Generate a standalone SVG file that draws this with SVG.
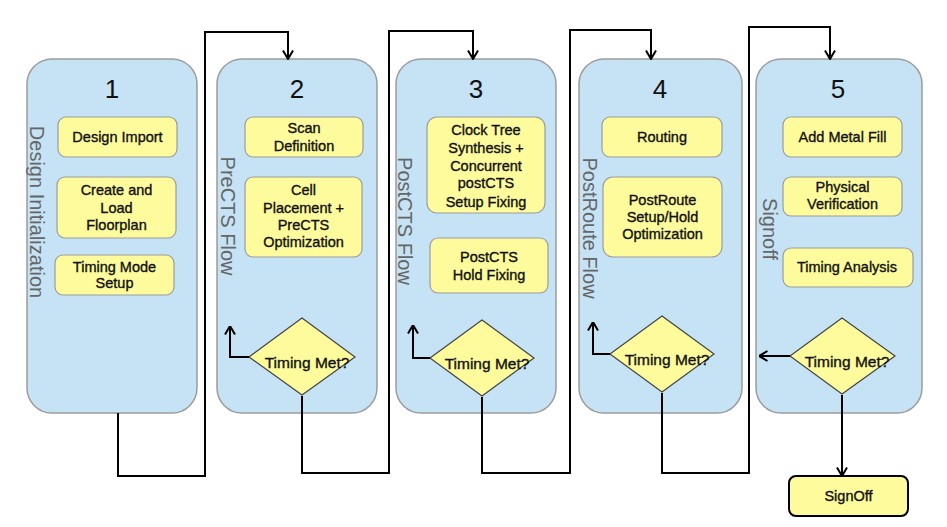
<svg xmlns="http://www.w3.org/2000/svg" width="947" height="527" viewBox="0 0 947 527">
<style>
.panel{fill:#C5E3F4;stroke:#9C9C9C;stroke-width:1.5}
.box{fill:#FEFB9D;stroke:#9C9C9C;stroke-width:1.2}
.dia{fill:#FEFB9D;stroke:#444;stroke-width:1.2}
.t{font-family:"Liberation Sans",Arial,sans-serif;font-size:14.5px;fill:#111;stroke:#111;stroke-width:0.35;text-anchor:middle}
.tm{font-size:15.5px}
.num{font-family:"Liberation Sans",Arial,sans-serif;font-size:26px;fill:#111;text-anchor:middle}
.vl{font-family:"Liberation Sans",Arial,sans-serif;font-size:20px;fill:#666;text-anchor:middle}
.c{fill:none;stroke:#000;stroke-width:2}
</style>
<defs>
<marker id="arr" viewBox="0 0 10 12" refX="9.5" refY="6" markerWidth="10" markerHeight="12" markerUnits="userSpaceOnUse" orient="auto">
<path d="M1,1 L9.5,6 L1,11" fill="none" stroke="#000" stroke-width="2"/>
</marker>
</defs>
<rect width="947" height="527" fill="#fff"/>

<g id="panel1">
<rect class="panel" x="27" y="59" width="170" height="354" rx="25"/>
<text class="num" x="112" y="98">1</text>
<text class="vl" transform="translate(30,212) rotate(90)">Design Initialization</text>
</g>
<g id="design-import"><rect class="box" x="58" y="117" width="119" height="40" rx="8"/><text class="t" x="117.5" y="142">Design Import</text></g>
<g id="floorplan"><rect class="box" x="57" y="177" width="119" height="61" rx="8"/><text class="t" x="116.5" y="195">Create and</text><text class="t" x="116.5" y="213">Load</text><text class="t" x="116.5" y="230">Floorplan</text></g>
<g id="timing-mode"><rect class="box" x="55" y="255" width="119" height="40" rx="8"/><text class="t" x="114.5" y="272">Timing Mode</text><text class="t" x="114.5" y="288">Setup</text></g>

<g id="panel2">
<rect class="panel" x="217" y="59" width="160" height="354" rx="25"/>
<text class="num" x="297" y="98">2</text>
<text class="vl" transform="translate(221,216) rotate(90)">PreCTS Flow</text>
</g>
<g id="scan"><rect class="box" x="245" y="117" width="118" height="40" rx="8"/><text class="t" x="304" y="133">Scan</text><text class="t" x="304" y="151">Definition</text></g>
<g id="placement"><rect class="box" x="245" y="177" width="117" height="80" rx="8"/><text class="t" x="303.5" y="195">Cell</text><text class="t" x="303.5" y="213">Placement +</text><text class="t" x="303.5" y="230">PreCTS</text><text class="t" x="303.5" y="247">Optimization</text></g>
<g id="dec2"><polygon class="dia" points="302,318 355,357 302,395 249,357"/><text class="t tm" x="307" y="368">Timing Met?</text></g>

<g id="panel3">
<rect class="panel" x="396" y="59" width="160" height="354" rx="25"/>
<text class="num" x="476" y="98">3</text>
<text class="vl" transform="translate(398,221) rotate(90)">PostCTS Flow</text>
</g>
<g id="cts"><rect class="box" x="427" y="117" width="118" height="96" rx="10"/><text class="t" x="486" y="135">Clock Tree</text><text class="t" x="486" y="153">Synthesis +</text><text class="t" x="486" y="171">Concurrent</text><text class="t" x="486" y="188">postCTS</text><text class="t" x="486" y="207">Setup Fixing</text></g>
<g id="hold"><rect class="box" x="430" y="238" width="118" height="55" rx="8"/><text class="t" x="489" y="262">PostCTS</text><text class="t" x="489" y="280">Hold Fixing</text></g>
<g id="dec3"><polygon class="dia" points="482,320 534,358 482,396 430,358"/><text class="t tm" x="487" y="369">Timing Met?</text></g>

<g id="panel4">
<rect class="panel" x="579" y="59" width="163" height="354" rx="25"/>
<text class="num" x="660" y="98">4</text>
<text class="vl" transform="translate(583,228) rotate(90)">PostRoute Flow</text>
</g>
<g id="routing"><rect class="box" x="602" y="117" width="120" height="40" rx="8"/><text class="t" x="662" y="142">Routing</text></g>
<g id="postroute"><rect class="box" x="603" y="177" width="119" height="80" rx="10"/><text class="t" x="662.5" y="205">PostRoute</text><text class="t" x="662.5" y="222">Setup/Hold</text><text class="t" x="662.5" y="239">Optimization</text></g>
<g id="dec4"><polygon class="dia" points="662,316 714,354 662,392 610,354"/><text class="t tm" x="667" y="365">Timing Met?</text></g>

<g id="panel5">
<rect class="panel" x="756" y="59" width="166" height="354" rx="25"/>
<text class="num" x="838" y="98">5</text>
<text class="vl" transform="translate(763,229) rotate(90)">Signoff</text>
</g>
<g id="metalfill"><rect class="box" x="783" y="117" width="119" height="40" rx="8"/><text class="t" x="842.5" y="142">Add Metal Fill</text></g>
<g id="physver"><rect class="box" x="783" y="177" width="119" height="39" rx="8"/><text class="t" x="842.5" y="192">Physical</text><text class="t" x="842.5" y="209">Verification</text></g>
<g id="timing-analysis"><rect class="box" x="783" y="248" width="130" height="39" rx="8"/><text class="t" x="847" y="272">Timing Analysis</text></g>
<g id="dec5"><polygon class="dia" points="842,318 895,356 842,394 790,356"/><text class="t tm" x="847" y="367">Timing Met?</text></g>

<g id="signoff"><rect x="789" y="476" width="119" height="40" rx="7" fill="#FEFB9D" stroke="#000" stroke-width="2"/><text class="t" x="848.5" y="501">SignOff</text></g>

<g id="connectors">
<path class="c" d="M118,413 V476 H205 V32 H288 V59" marker-end="url(#arr)"/>
<path class="c" d="M302,396 V473 H389 V31 H473 V59" marker-end="url(#arr)"/>
<path class="c" d="M482,397 V473 H570 V30 H651 V59" marker-end="url(#arr)"/>
<path class="c" d="M662,393 V473 H749 V27 H830 V59" marker-end="url(#arr)"/>
<path class="c" d="M842,395 V476" marker-end="url(#arr)"/>
<path class="c" d="M249,357 H230 V326" marker-end="url(#arr)"/>
<path class="c" d="M430,358 H413 V325" marker-end="url(#arr)"/>
<path class="c" d="M610,354 H593 V322" marker-end="url(#arr)"/>
<path class="c" d="M790,356 H759" marker-end="url(#arr)"/>
</g>
</svg>
